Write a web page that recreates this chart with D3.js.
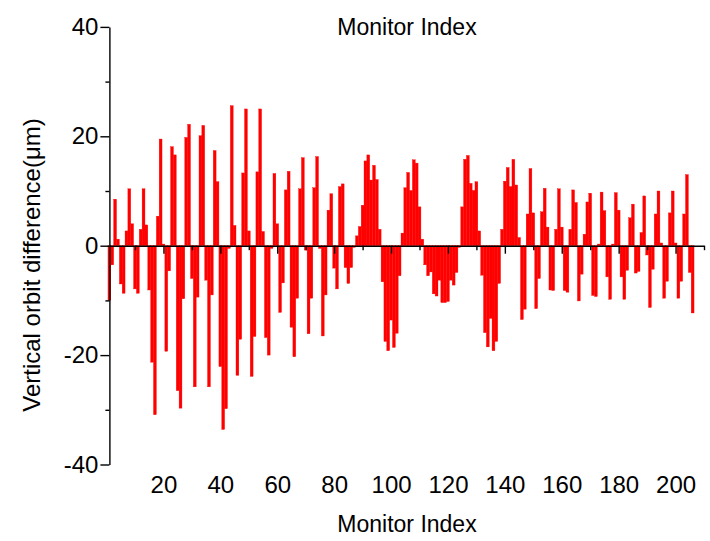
<!DOCTYPE html>
<html lang="en">

<head>
    <meta charset="utf-8">
    <title>Vertical orbit difference</title>
    <script src="https://cdn.jsdelivr.net/npm/d3@7"></script>
</head>
<style>
    body { margin: 0; background: #fff; }
    svg text { font-family: "Liberation Sans", Arial, sans-serif; fill: #000; }
</style>

<body>
    <script>

     // monitor index of each bar
     var monitorIndex = d3.range(1, 207);

     // vertical orbit difference (um), one per monitor
     var orbitDiff = [
         -10.0, -3.5, 8.5, 1.2, -7.0, -8.7, 2.7, 10.4, 4.0, -7.9,
         -8.7, 3.0, 10.4, 3.8, -8.1, -21.3, -30.9, 5.4, 19.5, 0.3,
         -19.3, -4.6, 18.1, 16.6, -26.5, -29.7, -9.7, 19.8, 22.2, -6.0,
         -25.8, -9.4, 20.1, 22.0, -6.3, -25.8, -9.0, 17.4, 11.7, -22.1,
         -33.6, -29.8, -0.5, 25.6, 3.7, -23.7, -17.1, 13.3, 25.0, 2.7,
         -23.9, -16.6, 13.5, 25.0, 2.6, -16.8, -20.0, -0.5, 13.2, 4.0,
         -12.2, -6.8, 10.2, 13.6, -14.9, -20.3, -9.6, 10.4, 16.1, -0.8,
         -16.1, -9.6, 10.6, 16.3, -0.5, -16.5, -9.0, 6.5, 9.5, -4.1,
         -7.9, 10.8, 11.3, -4.0, -6.9, -4.0, -0.3, 1.8, 3.5, 7.4,
         15.5, 16.6, 12.0, 14.7, 12.1, 3.0, -6.6, -17.5, -19.2, -13.6,
         -18.6, -16.0, -5.5, 2.3, 10.6, 13.4, 10.1, 15.7, 15.1, 7.1,
         1.2, -3.5, -5.5, -4.8, -8.8, -9.2, -6.3, -10.4, -10.4, -10.2,
         -6.3, -7.2, -4.9, -0.3, 7.1, 15.8, 16.5, 11.4, 10.1, 11.7,
         2.7, -5.4, -15.9, -18.5, -13.3, -19.2, -17.5, -6.9, 3.0, 11.8,
         14.3, 10.8, 15.8, 11.1, 1.5, -13.5, -11.6, 5.8, 14.1, 6.0,
         -11.5, -6.0, 6.2, 10.5, 3.4, -8.1, -8.2, 3.0, 10.4, 3.4,
         -8.2, -8.5, 3.0, 10.2, 7.9, -10.1, -5.2, 2.1, 8.0, 9.6,
         -9.1, -9.3, 0.3, 9.8, 6.4, -5.7, -9.8, 0.3, 9.7, 6.5,
         -5.7, -9.8, -4.5, 5.1, 7.6, -5.0, -4.7, 2.4, 9.1, -1.7,
         -11.3, -4.3, 5.8, 10.0, 0.5, -9.6, -6.5, 6.0, 10.0, 0.5,
         -9.6, -6.5, 5.8, 13.0, -4.9, -12.3
     ];

     // tick values
     var yMajorTicks = [-40, -20, 0, 20, 40];
     var yMinorTicks = [-30, -10, 10, 30];
     var xMajorTicks = d3.range(20, 201, 20);
     var xMinorTicks = d3.range(10, 211, 20);

     var barData = monitorIndex.map(function(d, i) { return { "idx": d, "v": orbitDiff[i] }; });

     var svg = d3.select("body").append("svg")
                 .attr("width", 710)
                 .attr("height", 541);

     var x = d3.scaleLinear().domain([1, 210]).range([109.4, 704]);
     var y = d3.scaleLinear().domain([-40, 40]).range([464.5, 26.9]);

     // bars fill the whole step, like the original
     var barW = x(2) - x(1);

     // plain hyphen minus, not the unicode one
     var plain = function(d) { return String(d); };

     // bars (thin same-colour stroke closes the antialias gaps)
     svg.append("g").selectAll("rect")
        .data(barData)
        .enter().append("rect")
        .attr("x", function(d) { return x(d.idx) - barW / 2; })
        .attr("y", function(d) { return y(Math.max(0, d.v)); })
        .attr("width", barW)
        .attr("height", function(d) { return Math.abs(y(d.v) - y(0)); })
        .attr("fill", "#ff0000")
        .attr("stroke", "#ff0000")
        .attr("stroke-width", 0.35);

     // left axis, major + minor ticks
     var yAxisG = svg.append("g").attr("transform", "translate(" + x(1) + ",0)");
     yAxisG.call(d3.axisLeft(y).tickValues(yMajorTicks).tickSize(9).tickSizeOuter(0).tickPadding(2).tickFormat(plain));
     yAxisG.append("g").call(d3.axisLeft(y).tickValues(yMinorTicks).tickSize(4).tickFormat(""))
           .select(".domain").remove();

     // zero line with ticks hanging down
     var zeroG = svg.append("g").attr("transform", "translate(0," + y(0) + ")");
     zeroG.call(d3.axisBottom(x).tickValues(xMajorTicks).tickSize(8).tickSizeOuter(0).tickFormat(""));
     zeroG.append("g").call(d3.axisBottom(x).tickValues(xMinorTicks).tickSize(4.5).tickFormat(""))
          .select(".domain").remove();

     // tick labels sit at the bottom of the plot
     var labelG = svg.append("g").attr("transform", "translate(0,473)");
     labelG.call(d3.axisBottom(x).tickValues(xMajorTicks).tickSize(0).tickPadding(3).tickFormat(plain));
     labelG.select(".domain").remove();

     svg.selectAll(".tick text")
        .style("font-size", "24px")
        .style("font-family", "'Liberation Sans', Arial, sans-serif")
        .attr("fill", "#000");
     svg.selectAll(".domain, .tick line")
        .attr("stroke", "#000")
        .attr("stroke-width", 1.4);

     // titles
     svg.append("text")
        .attr("x", 407).attr("y", 35)
        .attr("text-anchor", "middle")
        .style("font-size", "23px")
        .text("Monitor Index");

     svg.append("text")
        .attr("x", 407).attr("y", 532)
        .attr("text-anchor", "middle")
        .style("font-size", "23px")
        .text("Monitor Index");

     svg.append("text")
        .attr("transform", "translate(40,265) rotate(-90)")
        .attr("text-anchor", "middle")
        .style("font-size", "24px")
        .text("Vertical orbit difference(\u03bcm)");

    </script>
</body>

</html>
